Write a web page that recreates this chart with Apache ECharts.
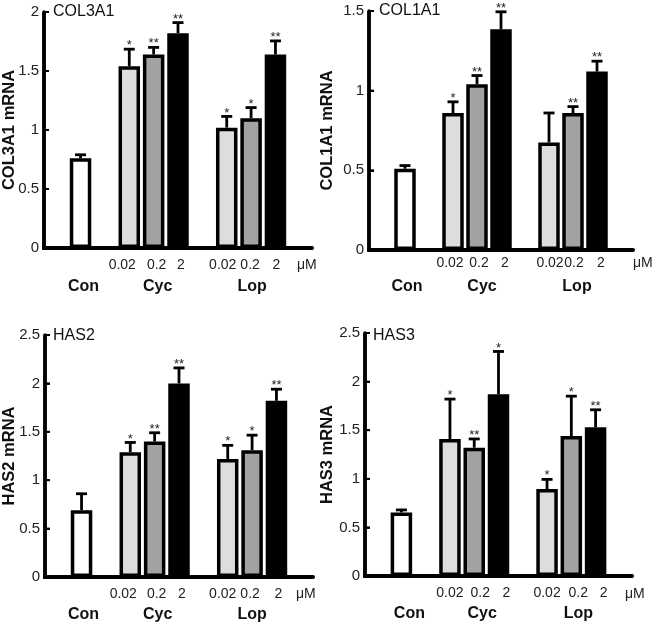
<!DOCTYPE html>
<html>
<head>
<meta charset="utf-8">
<script src="https://cdn.jsdelivr.net/npm/echarts@6/dist/echarts.min.js"></script>
<style>html,body{margin:0;padding:0;background:#fff;overflow:hidden}.p{position:absolute;height:312px}</style>
</head>
<body>
<div class="p" id="p0" style="left:0;top:0;width:327px"></div>
<div class="p" id="p1" style="left:300px;top:0;width:354px"></div>
<div class="p" id="p2" style="left:0;top:312px;width:327px"></div>
<div class="p" id="p3" style="left:300px;top:312px;width:354px"></div>
<script>
// ---- data ----
const slots = ['', 'Con', '', 'Cyc 0.02', 'Cyc 0.2', 'Cyc 2', '', 'Lop 0.02', 'Lop 0.2', 'Lop 2', ''];
const doseLabels = ['', '', '', '0.02', '0.2', '2', '', '0.02', '0.2', '2', ''];
const groupLabels = ['', 'Con', '', '', 'Cyc', '', '', '', 'Lop', '', ''];
const unitLabel = 'μM';

const col3a1Mean = [0.76, 1.54, 1.64, 1.82, 1.02, 1.10, 1.64];
const col3a1Sem  = [0.03, 0.145, 0.06, 0.09, 0.095, 0.09, 0.115];
const col3a1Sig  = ['', '*', '**', '**', '*', '*', '**'];

const col1a1Mean = [0.51, 0.86, 1.04, 1.385, 0.675, 0.86, 1.12];
const col1a1Sem  = [0.02, 0.07, 0.055, 0.11, 0.185, 0.04, 0.065];
const col1a1Sig  = ['', '*', '**', '**', '', '**', '**'];

const has2Mean = [0.69, 1.29, 1.40, 2.00, 1.22, 1.31, 1.82];
const has2Sem  = [0.17, 0.10, 0.09, 0.16, 0.14, 0.155, 0.12];
const has2Sig  = ['', '*', '**', '**', '*', '*', '**'];

const has3Mean = [0.654, 1.41, 1.32, 1.87, 0.894, 1.44, 1.53];
const has3Sem  = [0.026, 0.41, 0.09, 0.44, 0.10, 0.41, 0.18];
const has3Sig  = ['', '*', '**', '*', '*', '*', '**'];

const yMax = [2, 1.5, 2.5, 2.5];
const yStep = 0.5;

// ---- layout / style (pixel positions are local to each panel box) ----
const panels = [
  {name: 'COL3A1', mean: col3a1Mean, sem: col3a1Sem, sig: col3a1Sig, grid: {left: 44, top: 12, width: 268, height: 236}, nameGap: 26, title: [53, 4], mu: [297, 258],
   doseShift: [7, -3, -3, 4, 1, -1], groupShift: [-3, -4, -1], doseMargin: 10, groupOffset: 21},
  {name: 'COL1A1', mean: col1a1Mean, sem: col1a1Sem, sig: col1a1Sig, grid: {left: 69, top: 11, width: 264, height: 239}, nameGap: 33, title: [79, 3], mu: [333, 256],
   doseShift: [3, -2, -4, -1, -1, -4], groupShift: [-2, -5, -4], doseMargin: 6, groupOffset: 19},
  {name: 'HAS2', mean: has2Mean, sem: has2Sem, sig: has2Sig, grid: {left: 45, top: 23, width: 268, height: 242}, nameGap: 27, title: [53, 16], mu: [296, 275],
   doseShift: [7, -2, -3, 5, 2, -2], groupShift: [-2, -3, 0], doseMargin: 10, groupOffset: 20},
  {name: 'HAS3', mean: has3Mean, sem: has3Sem, sig: has3Sig, grid: {left: 65, top: 21, width: 267, height: 243}, nameGap: 29, title: [73, 16], mu: [325, 275],
   doseShift: [0, -6, -8, 0, -7, -8], groupShift: [-8, -8, -7], doseMargin: 10, groupOffset: 20}
];
const fills = ['#ffffff', '#dcdedc', '#a2a2a2', '#000000', '#dcdedc', '#a2a2a2', '#000000'];
const slotIndex = [1, 3, 4, 5, 7, 8, 9];
const doseSlots = [3, 4, 5, 7, 8, 9];
const groupSlots = [1, 4, 8];
const FONT = 'Liberation Sans, Arial, sans-serif';

function shifted(labels, slotList, shifts) {
  return labels.map((t, k) => {
    const j = slotList.indexOf(k);
    const s = j >= 0 ? shifts[j] : 0;
    return {value: t, textStyle: {padding: s > 0 ? [0, 2 * s, 0, 0] : [0, 0, 0, -2 * s]}};
  });
}

panels.forEach((p, i) => {
  const barData = slots.map(() => null);
  const errData = [];
  p.mean.forEach((m, k) => {
    barData[slotIndex[k]] = {value: m, itemStyle: {color: fills[k]}};
    errData.push([slotIndex[k], m, m + p.sem[k], p.sig[k]]);
  });
  const tickVals = [];
  for (let v = 0; v <= yMax[i] + 1e-9; v += yStep) tickVals.push(+v.toFixed(2));

  const option = {
    animation: false,
    backgroundColor: 'transparent',
    grid: [Object.assign({outerBoundsMode: 'none', containLabel: false}, p.grid)],
    xAxis: [
      {type: 'category', data: shifted(doseLabels, doseSlots, p.doseShift), position: 'bottom',
       axisLine: {show: true, onZero: false, lineStyle: {color: '#000', width: 4}}, axisTick: {show: false},
       axisLabel: {interval: 0, margin: p.doseMargin, fontSize: 14, color: '#222', fontFamily: FONT}},
      {type: 'category', data: shifted(groupLabels, groupSlots, p.groupShift), position: 'bottom', offset: p.groupOffset,
       axisLine: {show: false}, axisTick: {show: false},
       axisLabel: {interval: 0, margin: 10, fontSize: 16, fontWeight: 'bold', color: '#111', fontFamily: FONT}}
    ],
    yAxis: [{
      type: 'value', min: 0, max: yMax[i], interval: yStep, position: 'left',
      name: p.name + ' mRNA', nameLocation: 'middle', nameGap: p.nameGap, nameMoveOverlap: false,
      nameTextStyle: {fontSize: 16.5, fontWeight: 'bold', color: '#111', fontFamily: FONT},
      splitLine: {show: false},
      axisLine: {show: true, onZero: false, lineStyle: {color: '#000', width: 3.5}},
      axisTick: {show: true, inside: true, length: 5, lineStyle: {color: '#000', width: 2}},
      axisLabel: {margin: 5, fontSize: 15, color: '#222', fontFamily: FONT}
    }],
    series: [
      {
        // axis frame redrawn from the grid's coordinate system
        type: 'custom', data: [[0, 0]], z: 5, silent: true,
        renderItem: function (params, api) {
          const cs = params.coordSys;
          const x0 = cs.x, yb = cs.y + cs.height;
          const kids = [
            {type: 'line', shape: {x1: x0, y1: cs.y, x2: x0, y2: yb}, style: {stroke: '#000', lineWidth: 3.5}},
            {type: 'line', shape: {x1: x0 - 1.75, y1: yb, x2: cs.x + cs.width, y2: yb}, style: {stroke: '#000', lineWidth: 4}}
          ];
          tickVals.forEach(v => {
            const y = api.coord([0, v])[1];
            kids.push({type: 'line', shape: {x1: x0, y1: y, x2: x0 + 5, y2: y}, style: {stroke: '#000', lineWidth: 2}});
          });
          return {type: 'group', children: kids};
        }
      },
      {type: 'bar', data: barData, barWidth: 21.5, itemStyle: {borderColor: '#000', borderWidth: 3.5}, z: 2},
      {
        type: 'custom', data: errData, z: 3,
        renderItem: function (params, api) {
          const x = api.value(0);
          const p0 = api.coord([x, api.value(1)]);
          const p1 = api.coord([x, api.value(2)]);
          const txt = errData[params.dataIndex][3];
          return {
            type: 'group',
            children: [
              {type: 'line', shape: {x1: p0[0], y1: p0[1], x2: p1[0], y2: p1[1]}, style: {stroke: '#000', lineWidth: 2.8}},
              {type: 'line', shape: {x1: p1[0] - 5.5, y1: p1[1], x2: p1[0] + 5.5, y2: p1[1]}, style: {stroke: '#000', lineWidth: 2.8}},
              {type: 'text', style: {text: txt, x: p1[0], y: p1[1] + 3, align: 'center', verticalAlign: 'bottom', fontSize: 13, fill: '#222', fontFamily: FONT}}
            ]
          };
        }
      }
    ],
    title: [{
      text: p.name, left: p.title[0], top: p.title[1], padding: 0,
      textStyle: {fontSize: 16, fontWeight: 'normal', color: '#111', fontFamily: FONT}
    }],
    graphic: [{
      type: 'text', left: p.mu[0], top: p.mu[1],
      style: {text: unitLabel, fontSize: 14, fill: '#222', fontFamily: FONT}
    }]
  };
  echarts.init(document.getElementById('p' + i), null, {renderer: 'canvas'}).setOption(option);
});
</script>
</body>
</html>
